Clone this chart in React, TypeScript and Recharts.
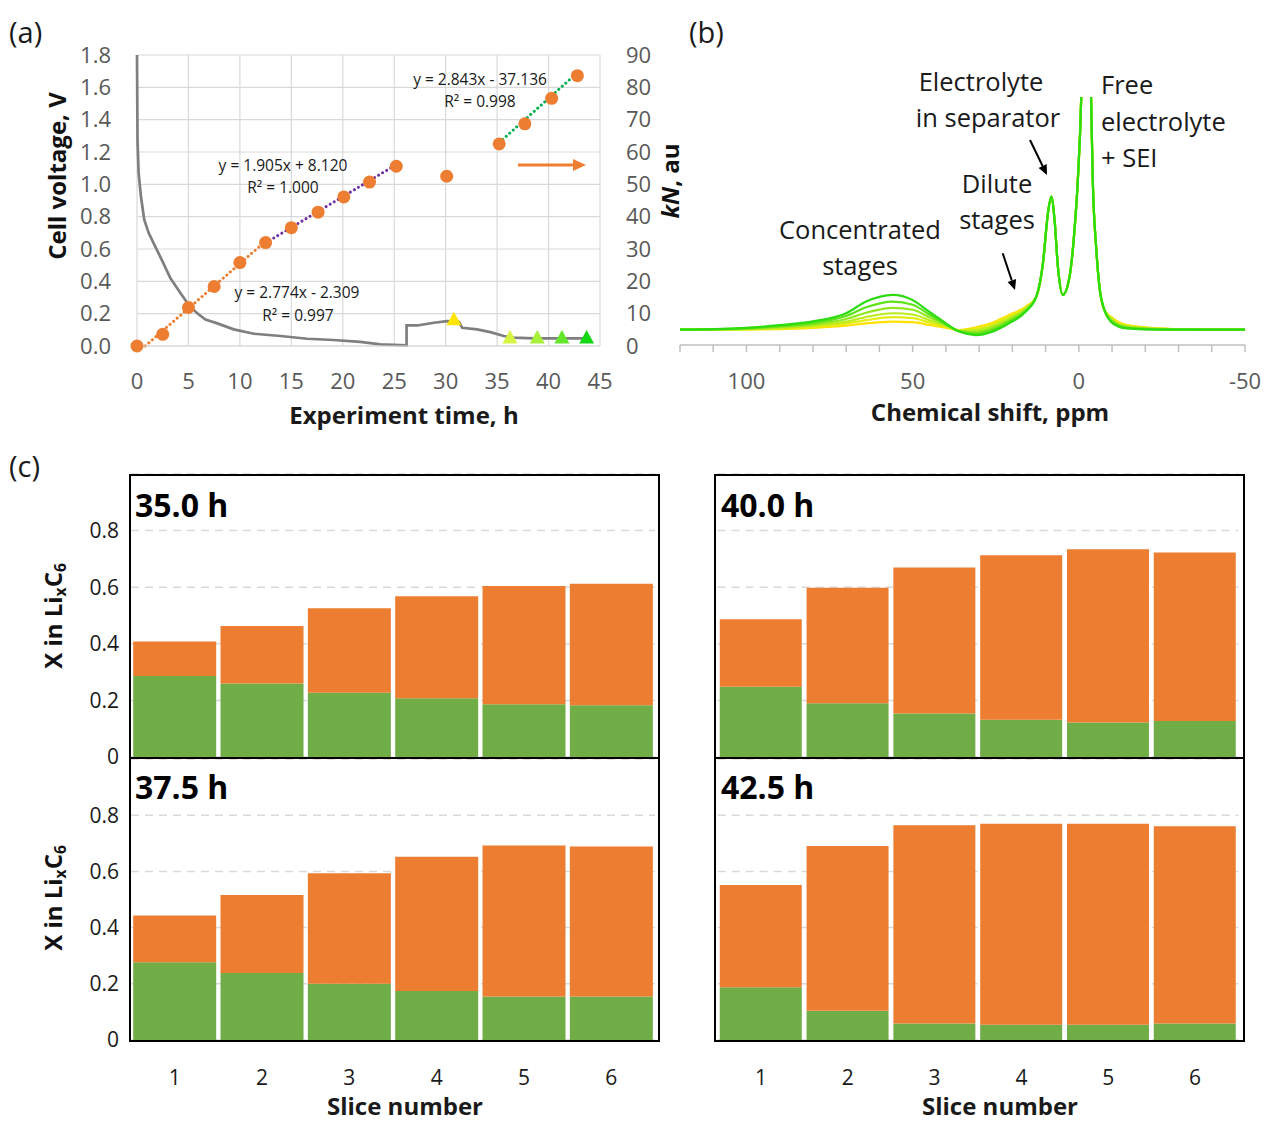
import React from 'react'
import { ComposedChart, LineChart, BarChart, Line, Bar, XAxis, YAxis, CartesianGrid } from 'recharts'

const FONT = '"Open Sans", Lato, sans-serif'
const ORANGE = '#ED7D31'
const GREEN = '#70AD47'

// ---- (a) cell voltage (left axis) and kN (right axis) vs experiment time
const voltTime = [0, 0.05, 0.16, 0.39, 0.71, 1.13, 1.61, 2.43, 3.24, 4.2, 5.0, 5.8, 6.65, 7.8, 9.4, 11.35, 13.95, 16.55, 19.1, 21.7, 23.65, 26.2, 26.2, 27.25, 28.85, 30.15, 31.3, 31.6, 33.05, 34.35, 35.65, 36.6, 38.6, 44.1]
const voltage = [1.8, 1.27, 1.07, 0.92, 0.78, 0.7, 0.636, 0.53, 0.42, 0.33, 0.257, 0.205, 0.164, 0.14, 0.103, 0.076, 0.062, 0.045, 0.037, 0.025, 0.01, 0.004, 0.127, 0.127, 0.144, 0.154, 0.148, 0.113, 0.103, 0.086, 0.062, 0.052, 0.047, 0.047]

const knTime = [0, 2.5, 5.0, 7.5, 10.0, 12.5, 15.0, 17.6, 20.1, 22.6, 25.2, 30.1, 35.2, 37.7, 40.3, 42.8]
const knValue = [0, 3.6, 11.9, 18.4, 25.8, 32.0, 36.6, 41.4, 46.1, 50.7, 55.6, 52.5, 62.5, 68.7, 76.6, 83.6]

// linear fits drawn as dotted trendlines
const fitOrangeTime = [0.8, 12.5]
const fitOrangeKn = [0, 32.4]
const fitPurpleTime = [12.5, 25.2]
const fitPurpleKn = [31.9, 56.1]
const fitGreenTime = [35.2, 42.8]
const fitGreenKn = [62.9, 84.5]

// times at which the NMR spectra were taken
const nmrTime = [30.8, 36.25, 38.9, 41.3, 43.7]
const nmrVolt = [0.165, 0.053, 0.053, 0.053, 0.053]
const nmrColors = ['#FFE500', '#D6F542', '#A8F03A', '#62E62A', '#14D814']

const timeTicks = [0, 5, 10, 15, 20, 25, 30, 35, 40, 45]
const voltTicks = [0, 0.2, 0.4, 0.6, 0.8, 1.0, 1.2, 1.4, 1.6, 1.8]
const knTicks = [0, 10, 20, 30, 40, 50, 60, 70, 80, 90]

// ---- (b) 7Li spectra, yellow (earliest) to green (latest)
const shiftPpm = [120, 110, 100, 90, 80, 70, 64, 56, 50, 45, 40, 36, 31, 26, 21, 16, 12.8, 10.8, 9.3, 8.3, 7.3, 6.3, 4.8, 2.8, 1.3, 0.3, -0.7, -2.2, -3.7, -4.2, -5.2, -6.2, -7.7, -10.2, -14.3, -24.3, -35, -50]
const sharpPeaks = [19.5, 32.9, 53.1, 59.8, 50.4, 31.6, 20.2, 27.5, 46.4, 66.5, 98.8, 220, 98.8, 66.5, 39.6, 23.5, 14.1]
const spec1 = [6.2, 6.2, 6.3, 6.4, 6.9, 7.8, 8.75, 9.4, 9.2, 8.1, 7.0, 6.0, 7.1, 9.0, 12.1, 15.4, ...sharpPeaks, 10.8, 8.1, 6.7, 6.2, 6.2]
const spec2 = [6.2, 6.2, 6.3, 6.6, 7.3, 8.6, 10.0, 11.2, 10.8, 9.1, 7.4, 5.9, 6.5, 8.3, 11.5, 15.0, ...sharpPeaks, 10.4, 7.8, 6.6, 6.2, 6.2]
const spec3 = [6.2, 6.2, 6.4, 6.9, 7.8, 9.4, 11.3, 12.8, 12.3, 10.0, 7.7, 5.8, 5.9, 7.6, 10.8, 14.6, ...sharpPeaks, 10.0, 7.5, 6.5, 6.2, 6.2]
const spec4 = [6.2, 6.3, 6.6, 7.3, 8.3, 10.5, 13.0, 15.0, 14.2, 11.2, 8.1, 5.6, 5.2, 6.9, 10.1, 14.2, ...sharpPeaks, 9.6, 7.2, 6.4, 6.2, 6.2]
const spec5 = [6.2, 6.3, 6.8, 7.6, 8.8, 11.7, 15.2, 17.5, 16.2, 12.3, 8.4, 5.5, 4.6, 6.1, 9.4, 13.8, ...sharpPeaks, 9.2, 7.0, 6.3, 6.2, 6.2]
const spec6 = [6.2, 6.4, 6.9, 8.0, 9.5, 12.8, 17.5, 20.2, 18.1, 13.4, 8.75, 5.4, 4.0, 5.4, 8.75, 13.4, ...sharpPeaks, 8.75, 6.7, 6.2, 6.2, 6.2]
const spectra = [spec1, spec2, spec3, spec4, spec5, spec6]
const specColors = ['#FFE000', '#E2EE12', '#BDEC1C', '#92E81E', '#5EE218', '#2CDC10']
const ppmTicks = [-50, -40, -30, -20, -10, 0, 10, 20, 30, 40, 50, 60, 70, 80, 90, 100, 110, 120]

// ---- (c) x in LixC6 per slice: green and orange portions
const slices = ['1', '2', '3', '4', '5', '6']
const green35 = [0.286, 0.26, 0.227, 0.208, 0.186, 0.183]
const orange35 = [0.122, 0.203, 0.299, 0.36, 0.418, 0.429]
const green40 = [0.248, 0.19, 0.154, 0.132, 0.122, 0.127]
const orange40 = [0.239, 0.408, 0.516, 0.581, 0.612, 0.596]
const green375 = [0.277, 0.238, 0.2, 0.174, 0.155, 0.155]
const orange375 = [0.166, 0.278, 0.393, 0.478, 0.537, 0.534]
const green425 = [0.188, 0.104, 0.059, 0.054, 0.054, 0.059]
const orange425 = [0.364, 0.586, 0.705, 0.716, 0.716, 0.702]
const fracTicks = [0, 0.2, 0.4, 0.6, 0.8]

const pairs = (xs: number[], ys: number[]) => xs.map((x, i) => ({ x, y: ys[i] }))

const Txt = ({ cx, cy, size = 16, left, bold, children }: any) => (
  <div style={{
    position: 'absolute', left: left ?? cx, top: cy, whiteSpace: 'nowrap', lineHeight: 1,
    transform: left != null ? 'translate(0, -50%)' : 'translate(-50%, -50%)',
    fontSize: size, fontWeight: bold ? 700 : 400, color: '#1a1a1a',
  }}>{children}</div>
)

const VLabel = ({ cx, cy, size = 24, children }: any) => (
  <div style={{
    position: 'absolute', left: cx, top: cy, whiteSpace: 'nowrap', lineHeight: 1,
    transform: 'translate(-50%, -50%) rotate(-90deg)', fontSize: size, fontWeight: 700, color: '#111',
  }}>{children}</div>
)

const Triangle = (props: any) => {
  const { cx, cy, index } = props
  if (cx == null || cy == null) return <g key={index} />
  return <polygon key={index} points={`${cx},${cy - 7.5} ${cx + 7.5},${cy + 6} ${cx - 7.5},${cy + 6}`} fill={nmrColors[index]} />
}

const dotted = { strokeWidth: 3, strokeDasharray: '0.1 4.6', strokeLinecap: 'round' as const }
const grayTick = { fill: '#595959', fontSize: 22 }

function PanelA() {
  return (
    <div style={{ position: 'absolute', left: 0, top: 0 }}>
      <ComposedChart width={700} height={440} margin={{ top: 55, right: 0, bottom: 0, left: 0 }}>
        <CartesianGrid stroke="#d9d9d9" strokeWidth={1.2} />
        <XAxis dataKey="x" type="number" domain={[0, 45]} ticks={timeTicks} interval={0} height={94}
          tickLine={false} axisLine={{ stroke: '#d9d9d9' }} tickSize={0} tickMargin={27}
          tick={grayTick} allowDuplicatedCategory={false} />
        <YAxis domain={[0, 1.8]} ticks={voltTicks} interval={0} width={137} tickLine={false} axisLine={false}
          tickSize={0} tickMargin={26} tick={grayTick} tickFormatter={(v: number) => v.toFixed(1)} />
        <YAxis yAxisId="right" orientation="right" domain={[0, 90]} ticks={knTicks} interval={0} width={100}
          tickLine={false} axisLine={false} tickSize={0} tickMargin={26} tick={grayTick} />
        <Line data={pairs(voltTime, voltage)} dataKey="y" type="linear" stroke="#7f7f7f" strokeWidth={2.7}
          dot={false} isAnimationActive={false} />
        <Line yAxisId="right" data={pairs(fitOrangeTime, fitOrangeKn)} dataKey="y" type="linear" stroke={ORANGE}
          {...dotted} dot={false} isAnimationActive={false} />
        <Line yAxisId="right" data={pairs(fitPurpleTime, fitPurpleKn)} dataKey="y" type="linear" stroke="#7030A0"
          {...dotted} dot={false} isAnimationActive={false} />
        <Line yAxisId="right" data={pairs(fitGreenTime, fitGreenKn)} dataKey="y" type="linear" stroke="#00B050"
          {...dotted} dot={false} isAnimationActive={false} />
        <Line yAxisId="right" data={pairs(knTime, knValue)} dataKey="y" stroke="none"
          dot={{ r: 6.5, fill: ORANGE, stroke: 'none' }} activeDot={false} isAnimationActive={false} />
        <Line data={pairs(nmrTime, nmrVolt)} dataKey="y" stroke="none" dot={Triangle} activeDot={false}
          isAnimationActive={false} />
      </ComposedChart>
    </div>
  )
}

function PanelB() {
  const rows = shiftPpm.map((ppm, i) => {
    const row: any = { ppm }
    spectra.forEach((s, k) => { row['s' + k] = s[i] })
    return row
  })
  return (
    <div style={{ position: 'absolute', left: 640, top: 0 }}>
      <LineChart width={625} height={440} data={rows} margin={{ top: 97, right: 20, bottom: 0, left: 40 }}>
        <XAxis dataKey="ppm" type="number" domain={[-50, 120]} reversed ticks={ppmTicks} interval={0} height={95}
          axisLine={{ stroke: '#bfbfbf', strokeWidth: 1.5 }} tickLine={{ stroke: '#bfbfbf', strokeWidth: 1.5 }}
          tickSize={7} tickMargin={21} tick={grayTick}
          tickFormatter={(v: number) => (v % 50 === 0 ? String(v) : '')} />
        <YAxis hide domain={[0, 100]} allowDataOverflow />
        {spectra.map((_, k) => (
          <Line key={k} dataKey={'s' + k} type="monotone" stroke={specColors[k]} strokeWidth={2.2}
            dot={false} activeDot={false} isAnimationActive={false} />
        ))}
      </LineChart>
    </div>
  )
}

function SlicePanel({ title, titleTop, green, orange, left, top, width, height, margin, showY, showX }: any) {
  const rows = slices.map((s, i) => ({ s, g: green[i], o: orange[i] }))
  return (
    <div style={{ position: 'absolute', left, top }}>
      <BarChart width={width} height={height} data={rows} margin={margin} barCategoryGap="2.5%">
        <CartesianGrid vertical={false} stroke="#d9d9d9" strokeWidth={1.5} strokeDasharray="8 6" />
        <XAxis dataKey="s" hide={!showX} height={82} tickLine={false} axisLine={false} tickSize={0} tickMargin={30}
          tick={{ fill: '#1a1a1a', fontSize: 21 }} />
        <YAxis domain={[0, 1]} ticks={fracTicks} interval={0} hide={!showY} width={131} tickLine={false}
          axisLine={false} tickSize={0} tickMargin={12} tick={{ fill: '#1a1a1a', fontSize: 21 }}
          tickFormatter={(v: number) => (v === 0 ? '0' : v.toFixed(1))} />
        <Bar dataKey="g" stackId="x" fill={GREEN} isAnimationActive={false} />
        <Bar dataKey="o" stackId="x" fill={ORANGE} isAnimationActive={false} />
      </BarChart>
      <div style={{ position: 'absolute', left: showY ? 135 : 61, top: titleTop, fontSize: 32,
        fontWeight: 700, lineHeight: 1, color: '#000' }}>{title}</div>
    </div>
  )
}

const Box = ({ left, top, width, height }: any) => (
  <div style={{ position: 'absolute', left, top, width, height, border: '2.5px solid #000', boxSizing: 'border-box' }} />
)

const LixC6 = () => (
  <span>X in Li<sub style={{ fontSize: '0.65em', verticalAlign: '-0.25em' }}>x</sub>C<sub style={{ fontSize: '0.65em', verticalAlign: '-0.25em' }}>6</sub></span>
)

export default function App() {
  const topM = { top: 34, right: 15, bottom: 13, left: 0 }
  const botM = { top: 19, right: 15, bottom: 0, left: 0 }
  const topMR = { top: 34, right: 26.6, bottom: 13, left: 57.6 }
  const botMR = { top: 19, right: 26.6, bottom: 0, left: 57.6 }
  return (
    <div style={{ position: 'absolute', left: 0, top: 0, width: 1265, height: 1122, background: '#fff', fontFamily: FONT, overflow: 'hidden' }}>
      <PanelA />
      <PanelB />

      <SlicePanel title="35.0 h" titleTop={49} green={green35} orange={orange35} left={0} top={440} width={670} height={330} margin={topM} showY />
      <SlicePanel title="40.0 h" titleTop={49} green={green40} orange={orange40} left={660} top={440} width={605} height={330} margin={topMR} />
      <SlicePanel title="37.5 h" titleTop={31} green={green375} orange={orange375} left={0} top={740} width={670} height={382} margin={botM} showY showX />
      <SlicePanel title="42.5 h" titleTop={31} green={green425} orange={orange425} left={660} top={740} width={605} height={382} margin={botMR} showX />
      <Box left={129} top={473.5} width={531} height={285.5} />
      <Box left={129} top={757} width={531} height={285} />
      <Box left={714} top={473.5} width={531} height={285.5} />
      <Box left={714} top={757} width={531} height={285} />

      {/* panel letters */}
      <Txt left={9} cy={31} size={29}>(a)</Txt>
      <Txt left={689} cy={31} size={29}>(b)</Txt>
      <Txt left={9} cy={465} size={29}>(c)</Txt>

      {/* axis titles */}
      <VLabel cx={57} cy={176}>Cell voltage, V</VLabel>
      <VLabel cx={670} cy={181}><i>kN</i>, au</VLabel>
      <Txt cx={404} cy={415} size={24} bold>Experiment time, h</Txt>
      <Txt cx={990} cy={412} size={24} bold>Chemical shift, ppm</Txt>
      <VLabel cx={55} cy={616}><LixC6 /></VLabel>
      <VLabel cx={55} cy={898}><LixC6 /></VLabel>
      <Txt cx={405} cy={1106} size={24} bold>Slice number</Txt>
      <Txt cx={1000} cy={1106} size={24} bold>Slice number</Txt>

      {/* fit equations */}
      <Txt cx={283} cy={166} size={15.5}>y = 1.905x + 8.120</Txt>
      <Txt cx={283} cy={188} size={15.5}>R² = 1.000</Txt>
      <Txt cx={297} cy={293} size={15.5}>y = 2.774x - 2.309</Txt>
      <Txt cx={298} cy={316} size={15.5}>R² = 0.997</Txt>
      <Txt cx={480} cy={80} size={15.5}>y = 2.843x - 37.136</Txt>
      <Txt cx={480} cy={102} size={15.5}>R² = 0.998</Txt>

      {/* spectrum annotations */}
      <Txt cx={981} cy={82} size={25.5}>Electrolyte</Txt>
      <Txt cx={988} cy={118} size={25.5}>in separator</Txt>
      <Txt left={1101} cy={85} size={25.5}>Free</Txt>
      <Txt left={1101} cy={122} size={25.5}>electrolyte</Txt>
      <Txt left={1101} cy={158} size={25.5}>+ SEI</Txt>
      <Txt cx={997} cy={184} size={25.5}>Dilute</Txt>
      <Txt cx={997} cy={220} size={25.5}>stages</Txt>
      <Txt cx={860} cy={230} size={25.5}>Concentrated</Txt>
      <Txt cx={860} cy={266} size={25.5}>stages</Txt>

      <svg width={1265} height={1122} style={{ position: 'absolute', left: 0, top: 0, pointerEvents: 'none' }}>
        <line x1={518} y1={165} x2={574} y2={165} stroke={ORANGE} strokeWidth={3} />
        <polygon points="573,159 586,165 573,171" fill={ORANGE} />
        <line x1={1030} y1={140} x2={1042.6} y2={166} stroke="#000" strokeWidth={2} />
        <polygon points="1038.6,168 1047,175 1046.7,164" fill="#000" />
        <line x1={1002.7} y1={253.3} x2={1011.8} y2={280.5} stroke="#000" strokeWidth={2} />
        <polygon points="1007.6,281.9 1015,290 1016.1,279.1" fill="#000" />
      </svg>
    </div>
  )
}
